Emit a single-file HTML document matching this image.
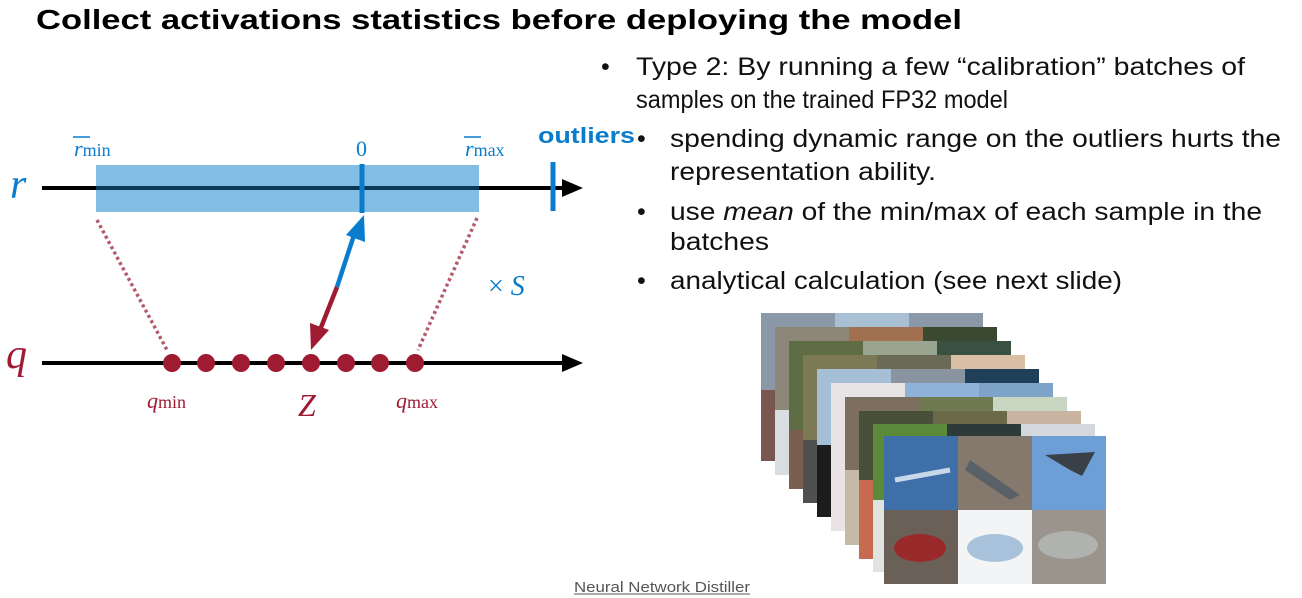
<!DOCTYPE html>
<html><head><meta charset="utf-8"><style>
html,body{margin:0;padding:0;background:#fff;width:1302px;height:598px;overflow:hidden}
svg{display:block}
.t{font-family:"Liberation Sans",Arial,sans-serif;font-size:25px;fill:#111}
.m{font-family:"Liberation Serif",serif}
</style></head><body>
<svg width="1302" height="598" viewBox="0 0 1302 598">
<text x="36" y="29" font-family="Liberation Sans,Arial,sans-serif" font-weight="bold" font-size="28" textLength="926" lengthAdjust="spacingAndGlyphs" fill="#000">Collect activations statistics before deploying the model</text>

<g>
<rect x="96" y="165" width="383" height="47" fill="#82bde3"/>
<line x1="42" y1="188" x2="565" y2="188" stroke="#000" stroke-width="4"/>
<line x1="96" y1="188" x2="479" y2="188" stroke="#0b3a56" stroke-width="4"/>
<polygon points="562,179 583,188 562,197" fill="#000"/>
<line x1="362" y1="164" x2="362" y2="213" stroke="#0a7ccc" stroke-width="5"/>
<line x1="553" y1="162" x2="553" y2="211" stroke="#0a7ccc" stroke-width="5"/>
<line x1="42" y1="363" x2="565" y2="363" stroke="#000" stroke-width="4"/>
<polygon points="562,354 583,363 562,372" fill="#000"/>
<line x1="97" y1="220" x2="167" y2="350" stroke="#b35a6a" stroke-width="3.5" stroke-dasharray="3,3"/>
<line x1="477" y1="218" x2="418" y2="350" stroke="#b35a6a" stroke-width="3.5" stroke-dasharray="3,3"/>
<g fill="#9e1b32">
<circle cx="172" cy="363" r="9"/><circle cx="206" cy="363" r="9"/><circle cx="241" cy="363" r="9"/><circle cx="276" cy="363" r="9"/><circle cx="311" cy="363" r="9"/><circle cx="346" cy="363" r="9"/><circle cx="380" cy="363" r="9"/><circle cx="415" cy="363" r="9"/>
</g>
<line x1="354" y1="235" x2="337" y2="287" stroke="#0a7ccc" stroke-width="4.5"/>
<polygon points="364,215 365,242 346,235" fill="#0a7ccc"/>
<line x1="337" y1="287" x2="320" y2="330" stroke="#9e1b32" stroke-width="4.5"/>
<polygon points="311,350 310,323 329,330" fill="#9e1b32"/>
<text x="10" y="198" class="m" font-style="italic" font-size="42" fill="#0a7ccc">r</text>
<text x="6" y="368" class="m" font-style="italic" font-size="42" fill="#9e1b32">q</text>
<text x="74" y="156" class="m" fill="#0a7ccc"><tspan font-style="italic" font-size="22">r</tspan><tspan font-size="18">min</tspan></text>
<line x1="73" y1="137" x2="90" y2="137" stroke="#0a7ccc" stroke-width="1.5"/>
<text x="356" y="156" class="m" font-size="22" fill="#0a7ccc">0</text>
<text x="465" y="156" class="m" fill="#0a7ccc"><tspan font-style="italic" font-size="22">r</tspan><tspan font-size="18">max</tspan></text>
<line x1="464" y1="137" x2="481" y2="137" stroke="#0a7ccc" stroke-width="1.5"/>
<text x="538" y="143" font-family="Liberation Sans,Arial,sans-serif" font-weight="bold" font-size="22" fill="#0a7ccc" textLength="97" lengthAdjust="spacingAndGlyphs">outliers</text>
<text x="488" y="295" class="m" font-size="28" fill="#0a7ccc">× <tspan font-style="italic">S</tspan></text>
<text x="147" y="408" class="m" fill="#9e1b32"><tspan font-style="italic" font-size="22">q</tspan><tspan font-size="18">min</tspan></text>
<text x="298" y="416" class="m" font-style="italic" font-size="32" fill="#9e1b32">Z</text>
<text x="396" y="408" class="m" fill="#9e1b32"><tspan font-style="italic" font-size="22">q</tspan><tspan font-size="18">max</tspan></text>
</g>

<g>
<text x="601" y="75" class="t">•</text>
<text x="636" y="75" class="t" textLength="609" lengthAdjust="spacingAndGlyphs">Type 2: By running a few “calibration” batches of</text>
<text x="636" y="108" class="t" textLength="372" lengthAdjust="spacingAndGlyphs">samples on the trained FP32 model</text>
<text x="637" y="147" class="t">•</text>
<text x="670" y="147" class="t" textLength="611" lengthAdjust="spacingAndGlyphs">spending dynamic range on the outliers hurts the</text>
<text x="670" y="180" class="t" textLength="266" lengthAdjust="spacingAndGlyphs">representation ability.</text>
<text x="637" y="220" class="t">•</text>
<text x="670" y="220" class="t" textLength="592" lengthAdjust="spacingAndGlyphs">use <tspan font-style="italic">mean</tspan> of the min/max of each sample in the</text>
<text x="670" y="250" class="t" textLength="99" lengthAdjust="spacingAndGlyphs">batches</text>
<text x="637" y="289" class="t">•</text>
<text x="670" y="289" class="t" textLength="452" lengthAdjust="spacingAndGlyphs">analytical calculation (see next slide)</text>
</g>

<g>
<g>
<rect x="761" y="313" width="222" height="148" fill="#8b98a8"/><rect x="835" y="313" width="74" height="148" fill="#a9bfd3"/><rect x="761" y="390" width="74" height="71" fill="#7a5650"/>
<rect x="775" y="327" width="222" height="148" fill="#8c8778"/><rect x="849" y="327" width="74" height="148" fill="#a07050"/><rect x="923" y="327" width="74" height="60" fill="#3a4a30"/><rect x="775" y="410" width="74" height="65" fill="#d8dde2"/>
<rect x="789" y="341" width="222" height="148" fill="#5f6d44"/><rect x="863" y="341" width="74" height="148" fill="#9aa590"/><rect x="937" y="341" width="74" height="148" fill="#3a5040"/><rect x="789" y="430" width="74" height="59" fill="#7a5f50"/>
<rect x="803" y="355" width="222" height="148" fill="#7c7a55"/><rect x="877" y="355" width="74" height="148" fill="#6a6a55"/><rect x="951" y="355" width="74" height="148" fill="#d9bfa4"/><rect x="803" y="440" width="74" height="63" fill="#505050"/>
<rect x="817" y="369" width="222" height="148" fill="#a5bfd7"/><rect x="891" y="369" width="74" height="148" fill="#8a94a0"/><rect x="965" y="369" width="74" height="148" fill="#1f3f5a"/><rect x="817" y="445" width="74" height="72" fill="#1c1c1c"/>
<rect x="831" y="383" width="222" height="148" fill="#e8e4e6"/><rect x="905" y="383" width="74" height="148" fill="#8fb3d8"/><rect x="979" y="383" width="74" height="148" fill="#7da3c8"/>
<rect x="845" y="397" width="222" height="148" fill="#7d6f5f"/><rect x="919" y="397" width="74" height="148" fill="#6f7a50"/><rect x="993" y="397" width="74" height="148" fill="#c9d6c2"/><rect x="845" y="470" width="74" height="75" fill="#c5b9a8"/>
<rect x="859" y="411" width="222" height="148" fill="#48503a"/><rect x="933" y="411" width="74" height="148" fill="#6a6a48"/><rect x="1007" y="411" width="74" height="148" fill="#c8b4a0"/><rect x="859" y="480" width="74" height="79" fill="#c86a50"/>
<rect x="873" y="424" width="222" height="148" fill="#5a8a3a"/><rect x="947" y="424" width="74" height="148" fill="#2c3a3a"/><rect x="1021" y="424" width="74" height="148" fill="#d4d8dc"/><rect x="873" y="500" width="74" height="72" fill="#e0e4e0"/>
</g>
<g>
<rect x="884" y="436" width="74" height="74" fill="#3e6fa8"/>
<rect x="958" y="436" width="74" height="74" fill="#85786c"/>
<rect x="1032" y="436" width="74" height="74" fill="#6d9fd6"/>
<rect x="884" y="510" width="74" height="74" fill="#6a6058"/>
<rect x="958" y="510" width="74" height="74" fill="#f2f4f6"/>
<rect x="1032" y="510" width="74" height="74" fill="#9a948c"/>
<ellipse cx="920" cy="548" rx="26" ry="14" fill="#9a2a2a"/>
<ellipse cx="995" cy="548" rx="28" ry="14" fill="#a8c2dc"/>
<ellipse cx="1068" cy="545" rx="30" ry="14" fill="#b0b2b0"/>
<polygon points="1045,455 1095,452 1082,476 1070,470" fill="#3a4048"/>
<polygon points="970,460 1020,495 1010,500 965,470" fill="#5a6068"/>
<line x1="895" y1="480" x2="950" y2="470" stroke="#c8d8e8" stroke-width="5"/>
</g>
</g>

<text x="574" y="592" font-family="Liberation Sans,Arial,sans-serif" font-size="15" fill="#555" textLength="176" lengthAdjust="spacingAndGlyphs">Neural Network Distiller</text>
<line x1="574" y1="594" x2="750" y2="594" stroke="#555" stroke-width="1"/>
</svg>
</body></html>
